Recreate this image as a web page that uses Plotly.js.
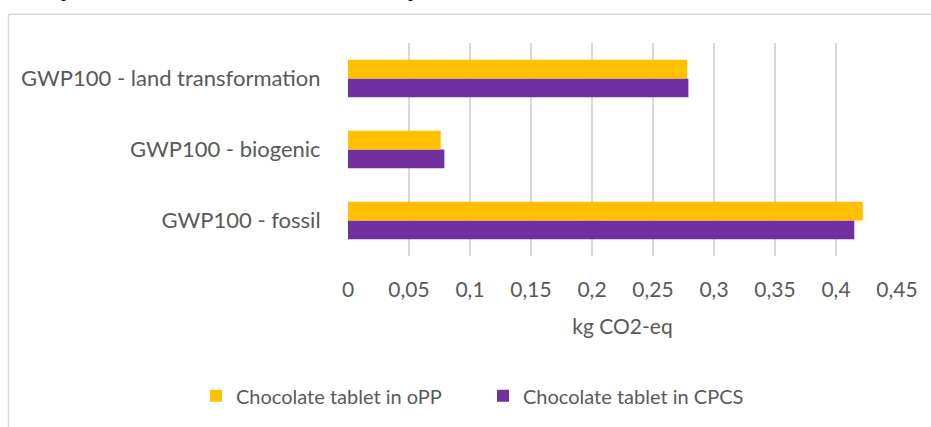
<!DOCTYPE html>
<html>
<head>
<meta charset="utf-8">
<script src="https://cdn.plot.ly/plotly-3.0.1.min.js"></script>
<style>html,body{margin:0;padding:0;background:#fff;}#chart{width:931px;height:427px;}</style>
</head>
<body>
<div id="chart"></div>
<script>
const categories = ["GWP100 - fossil", "GWP100 - biogenic", "GWP100 - land transformation"];
const seriesNames = ["Chocolate tablet in oPP", "Chocolate tablet in CPCS"];
const valuesOPP = [0.422, 0.076, 0.278];
const valuesCPCS = [0.415, 0.079, 0.279];
const xTickVals = [0, 0.05, 0.1, 0.15, 0.2, 0.25, 0.3, 0.35, 0.4, 0.45];
const xTitle = "kg CO2-eq";

const W = 931, H = 427;
const L = 348, R = 897, T = 43, B = 258;
const px = x => (x - L) / (R - L);
const py = y => (B - y) / (B - T);
const FONT = "Lato, 'Open Sans', sans-serif";
const GREY = "#595959";

const traces = [
  {type: "bar", orientation: "h", name: seriesNames[1], y: categories, x: valuesCPCS,
   marker: {color: "#7030A0"}, legend: "legend2"},
  {type: "bar", orientation: "h", name: seriesNames[0], y: categories, x: valuesOPP,
   marker: {color: "#FFC000"}, legend: "legend"}
];

const legendBase = {orientation: "h", yanchor: "middle", y: py(399), xanchor: "left",
  font: {family: FONT, size: 20, color: GREY}, itemwidth: 30, bgcolor: "rgba(0,0,0,0)"};

const layout = {
  width: W, height: H,
  margin: {l: L, r: W - R, t: T, b: H - B, pad: 0},
  paper_bgcolor: "#fff", plot_bgcolor: "#fff",
  separators: ", ",
  barmode: "group", bargap: 0.47, bargroupgap: 0,
  font: {family: FONT, color: GREY, size: 21},
  xaxis: {
    range: [0, 0.45], tickvals: xTickVals, showgrid: true, gridcolor: "#d9d9d9", gridwidth: 1.5,
    zeroline: false, showline: false, ticks: "outside", ticklen: 15, tickcolor: "rgba(0,0,0,0)",
    tickfont: {family: FONT, size: 21, color: GREY},
    title: {text: xTitle, font: {family: FONT, size: 21, color: GREY}, standoff: 19},
    fixedrange: true
  },
  yaxis: {
    showgrid: false, zeroline: false, showline: false, ticks: "outside", ticklen: 22,
    tickcolor: "rgba(0,0,0,0)", tickfont: {family: FONT, size: 22, color: GREY}, fixedrange: true
  },
  legend: Object.assign({}, legendBase, {x: px(196)}),
  legend2: Object.assign({}, legendBase, {x: px(483)}),
  shapes: [
    {type: "line", xref: "paper", yref: "paper", x0: px(8.5), x1: px(940), y0: py(14), y1: py(14),
     line: {color: "#d9d9d9", width: 1.5}},
    {type: "line", xref: "paper", yref: "paper", x0: px(8.5), x1: px(8.5), y0: py(14), y1: py(440),
     line: {color: "#d9d9d9", width: 1.5}}
  ],
  annotations: [
    {xref: "paper", yref: "paper", x: px(66), y: py(2.5), xanchor: "center", yanchor: "bottom",
     text: "p", showarrow: false, font: {family: "Liberation Serif", size: 20, color: "#000"}},
    {xref: "paper", yref: "paper", x: px(413), y: py(2.5), xanchor: "center", yanchor: "bottom",
     text: "p", showarrow: false, font: {family: "Liberation Serif", size: 20, color: "#000"}}
  ],
  showlegend: true
};

Plotly.newPlot("chart", traces, layout, {displayModeBar: false, staticPlot: true});
</script>
</body>
</html>
